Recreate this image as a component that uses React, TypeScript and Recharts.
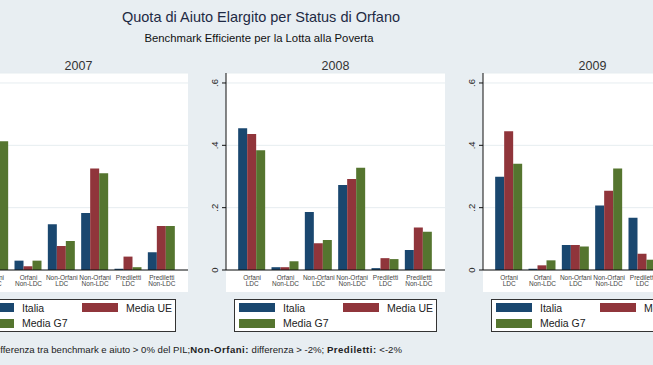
import { Bar, BarChart, CartesianGrid, XAxis, YAxis } from "recharts";

const categories = [
  "Orfani LDC",
  "Orfani Non-LDC",
  "Non-Orfani LDC",
  "Non-Orfani Non-LDC",
  "Prediletti LDC",
  "Prediletti Non-LDC",
];
const years = ["2007", "2008", "2009"];
const seriesNames = ["Italia", "Media UE", "Media G7"];

// 2007: the first group's Italia / Media UE bars fall outside the crop
const italia2007 = [0.38, 0.03, 0.147, 0.183, 0.004, 0.057];
const mediaUe2007 = [0.4, 0.012, 0.077, 0.326, 0.043, 0.141];
const mediaG72007 = [0.413, 0.03, 0.093, 0.31, 0.009, 0.141];

const italia2008 = [0.455, 0.009, 0.186, 0.273, 0.006, 0.064];
const mediaUe2008 = [0.436, 0.009, 0.086, 0.292, 0.038, 0.136];
const mediaG72008 = [0.384, 0.028, 0.096, 0.328, 0.035, 0.123];

// 2009: last group is outside the crop
const italia2009 = [0.299, 0.004, 0.08, 0.207, 0.168, 0.1];
const mediaUe2009 = [0.445, 0.015, 0.08, 0.254, 0.052, 0.15];
const mediaG72009 = [0.341, 0.031, 0.075, 0.326, 0.033, 0.13];

const yTicks = [0, 0.2, 0.4, 0.6];
const yTickLabels = ["0", ".2", ".4", ".6"];

const valuesByYear = [
  [italia2007, mediaUe2007, mediaG72007],
  [italia2008, mediaUe2008, mediaG72008],
  [italia2009, mediaUe2009, mediaG72009],
];

const colors = ["#1a476f", "#90353b", "#55752f"];
const keys = ["italia", "ue", "g7"];
const FONT = '"Liberation Sans", Arial, sans-serif';
const BG = "#e8eef2";

const PLOT_W = 219;
const AXIS_W = 30;
const TOP = 68;
const MARGIN_TOP = 5;
const PLOT_H = 197;
const XAXIS_H = 22;
const axisX = [-31, 226, 483];
const legendX = [-27, 234, 491];

function YTick({ x, y, payload }: any) {
  const i = yTicks.indexOf(payload.value);
  const cx = x - 5;
  return (
    <text
      x={cx}
      y={y}
      dy="0.35em"
      textAnchor="middle"
      transform={`rotate(-90, ${cx}, ${y})`}
      fontSize={9.5}
      fill="#222"
      fontFamily={FONT}
    >
      {yTickLabels[i]}
    </text>
  );
}

function XTick({ x, y, payload }: any) {
  const label = String(payload.value);
  const cut = label.indexOf(" ");
  const top = label.slice(0, cut);
  const bottom = label.slice(cut + 1);
  return (
    <text textAnchor="middle" fontSize={6.5} fill="#444" fontFamily={FONT}>
      <tspan x={x} y={y + 9.5}>
        {top}
      </tspan>
      <tspan x={x} y={y + 16}>
        {bottom}
      </tspan>
    </text>
  );
}

function Panel({ idx }: { idx: number }) {
  const vals = valuesByYear[idx];
  const data = categories.map((c, i) => ({
    name: c,
    italia: vals[0][i],
    ue: vals[1][i],
    g7: vals[2][i],
  }));
  const left = axisX[idx];
  return (
    <>
      <div
        style={{
          position: "absolute",
          left,
          top: TOP + MARGIN_TOP,
          width: PLOT_W,
          height: 219,
          background: "#fff",
        }}
      />
      <div style={{ position: "absolute", left: left - AXIS_W, top: TOP }}>
        <BarChart
          width={AXIS_W + PLOT_W}
          height={MARGIN_TOP + PLOT_H + XAXIS_H}
          data={data}
          margin={{ top: MARGIN_TOP, right: 0, left: 0, bottom: 0 }}
          barCategoryGap="8%"
          barGap={0}
        >
          <CartesianGrid vertical={false} stroke="#e6edf0" />
          <XAxis
            dataKey="name"
            interval={0}
            height={XAXIS_H}
            padding={{ left: 9.5, right: 9.5 }}
            tickLine={false}
            tickSize={0}
            tickMargin={0}
            axisLine={{ stroke: "#111" }}
            tick={<XTick />}
          />
          <YAxis
            type="number"
            domain={[0, 0.632]}
            ticks={yTicks}
            width={AXIS_W}
            tickSize={4}
            tickMargin={2}
            tickLine={{ stroke: "#111" }}
            axisLine={{ stroke: "#111" }}
            tick={<YTick />}
            allowDataOverflow
          />
          {keys.map((k, i) => (
            <Bar
              key={k}
              dataKey={k}
              name={seriesNames[i]}
              fill={colors[i]}
              isAnimationActive={false}
            />
          ))}
        </BarChart>
      </div>
      <Legend left={legendX[idx]} />
    </>
  );
}

function Legend({ left }: { left: number }) {
  const swatch = (i: number, x: number, y: number) => (
    <div
      style={{
        position: "absolute",
        left: x,
        top: y,
        width: 36,
        height: 9,
        background: colors[i],
      }}
    />
  );
  const label = (i: number, x: number, y: number) => (
    <div
      style={{
        position: "absolute",
        left: x,
        top: y,
        fontSize: 10.5,
        lineHeight: "12px",
        color: "#222",
        whiteSpace: "nowrap",
      }}
    >
      {seriesNames[i]}
    </div>
  );
  return (
    <div
      style={{
        position: "absolute",
        left,
        top: 299,
        width: 201,
        height: 31,
        background: "#fff",
        border: "1px solid #333",
        fontFamily: FONT,
      }}
    >
      {swatch(0, 4, 3)}
      {label(0, 48, 1.5)}
      {swatch(1, 108, 3)}
      {label(1, 152, 1.5)}
      {swatch(2, 4, 18.5)}
      {label(2, 48, 17)}
    </div>
  );
}

export default function App() {
  return (
    <div
      style={{
        position: "absolute",
        left: 0,
        top: 0,
        width: 653,
        height: 365,
        overflow: "hidden",
        background: BG,
        fontFamily: FONT,
      }}
    >
      {years.map((y, i) => (
        <Panel key={y} idx={i} />
      ))}
      <svg
        width={653}
        height={365}
        style={{ position: "absolute", left: 0, top: 0, pointerEvents: "none" }}
      >
        <text x={261} y={22} textAnchor="middle" fontSize={14.5} fill="#1e2a44" fontFamily={FONT}>
          Quota di Aiuto Elargito per Status di Orfano
        </text>
        <text x={259} y={41.5} textAnchor="middle" fontSize={11.3} fill="#111" fontFamily={FONT}>
          Benchmark Efficiente per la Lotta alla Poverta
        </text>
        {years.map((y, i) => (
          <text
            key={y}
            x={axisX[i] + PLOT_W / 2}
            y={70}
            textAnchor="middle"
            fontSize={12.5}
            fill="#333"
            fontFamily={FONT}
          >
            {y}
          </text>
        ))}
        <text x={402} y={353} textAnchor="end" fontSize={9.6} fill="#222" fontFamily={FONT}>
          <tspan>Orfani: differenza tra benchmark e aiuto &gt; 0% del PIL;</tspan>
          <tspan fontWeight="bold" letterSpacing={0.5}>Non-Orfani:</tspan>
          <tspan> differenza &gt; -2%; </tspan>
          <tspan fontWeight="bold" letterSpacing={0.5}>Prediletti:</tspan>
          <tspan> &lt;-2%</tspan>
        </text>
      </svg>
    </div>
  );
}
